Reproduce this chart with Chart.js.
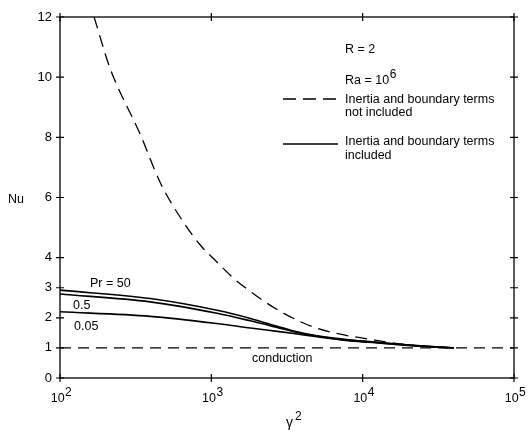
<!DOCTYPE html>
<html>
<head>
<meta charset="utf-8">
<script src="https://cdn.jsdelivr.net/npm/chart.js@4/dist/chart.umd.min.js"></script>
<style>
  html, body { margin: 0; padding: 0; background: #fff; }
  #wrap { width: 529px; height: 436px; }
</style>
</head>
<body>
<div id="wrap"><canvas id="c" width="529" height="436"></canvas></div>
<script>
// ---- data ----
const xTickVals = [100, 1000, 10000, 100000];
const xTickExps = ['2', '3', '4', '5'];
const yTickVals = [0, 1, 2, 3, 4, 6, 8, 10, 12];

// Inertia and boundary terms NOT included (dashed)
const notInclX = [168, 214, 339, 459, 640, 845, 1091, 1406, 1811, 2339, 3013, 3885, 5010, 7520, 10800, 14650, 20000, 30000];
const notInclY = [12, 10.3, 8.1, 6.5, 5.25, 4.42, 3.85, 3.31, 2.88, 2.48, 2.15, 1.87, 1.65, 1.43, 1.30, 1.19, 1.10, 1.03];

// Inertia and boundary terms included (solid), three Prandtl numbers
const solidX = [100, 395, 1091, 1811, 2723, 3508, 5010, 8340, 13150, 20000, 40000];
const pr50  = [2.92, 2.64, 2.25, 1.98, 1.72, 1.56, 1.40, 1.26, 1.18, 1.10, 1.0];
const pr05  = [2.79, 2.53, 2.15, 1.90, 1.68, 1.54, 1.39, 1.25, 1.17, 1.09, 1.0];
const pr005 = [2.20, 2.05, 1.81, 1.66, 1.55, 1.48, 1.37, 1.23, 1.16, 1.08, 1.0];

// Conduction line
const condX = [100, 100000];
const condY = [1, 1];

const FONT = '"Liberation Sans", Arial, Helvetica, sans-serif';
const pts = (xs, ys) => xs.map((x, i) => ({ x: x, y: ys[i] }));

const solidStyle = { borderColor: '#000', borderWidth: 1.6, pointRadius: 0, fill: false, cubicInterpolationMode: 'monotone' };

const decor = {
  id: 'decor',
  afterDraw(chart) {
    const ctx = chart.ctx;
    const a = chart.chartArea;
    const xs = chart.scales.x, ys = chart.scales.y;
    ctx.save();
    ctx.strokeStyle = '#000';
    ctx.fillStyle = '#000';
    ctx.lineWidth = 1.3;
    ctx.setLineDash([]);
    ctx.strokeRect(a.left, a.top, a.right - a.left, a.bottom - a.top);
    // cross ticks on all four sides
    ctx.lineWidth = 1.2;
    ctx.beginPath();
    yTickVals.forEach(v => {
      const py = ys.getPixelForValue(v);
      ctx.moveTo(a.left - 4, py); ctx.lineTo(a.left + 4, py);
      ctx.moveTo(a.right - 4, py); ctx.lineTo(a.right + 4, py);
    });
    xTickVals.forEach(v => {
      const px = xs.getPixelForValue(v);
      ctx.moveTo(px, a.bottom - 4); ctx.lineTo(px, a.bottom + 4);
      ctx.moveTo(px, a.top - 4); ctx.lineTo(px, a.top + 4);
    });
    ctx.stroke();

    // helper: base + raised exponent
    function powText(base, exp, x, y, align) {
      ctx.font = '12.5px ' + FONT;
      const w1 = ctx.measureText(base).width;
      ctx.font = '12px ' + FONT;
      const w2 = ctx.measureText(exp).width;
      let sx = x;
      if (align === 'center') sx = x - (w1 + w2) / 2;
      ctx.textAlign = 'left';
      ctx.textBaseline = 'alphabetic';
      ctx.font = '12.5px ' + FONT;
      ctx.fillText(base, sx, y);
      ctx.font = '12px ' + FONT;
      ctx.fillText(exp, sx + w1 + 0.5, y - 6);
    }
    // x tick labels
    xTickVals.forEach((v, i) => {
      powText('10', xTickExps[i], xs.getPixelForValue(v) + 1, a.bottom + 24, 'center');
    });
    // axis titles
    ctx.font = '12.5px ' + FONT;
    ctx.textAlign = 'left';
    ctx.textBaseline = 'alphabetic';
    ctx.fillText('Nu', 8, ys.getPixelForValue(6) + 5);
    ctx.font = '14px ' + FONT;
    ctx.fillText('\u03B3', 286, a.bottom + 49);
    ctx.font = '12px ' + FONT;
    ctx.fillText('2', 295, a.bottom + 42);

    // legend / annotation text
    ctx.font = '12.5px ' + FONT;
    ctx.fillText('R = 2', 345, 53);
    powText('Ra = 10', '6', 345, 84, 'left');
    ctx.font = '12.5px ' + FONT;
    ctx.fillText('Inertia and boundary terms', 345, 103);
    ctx.fillText('not included', 345, 116);
    ctx.fillText('Inertia and boundary terms', 345, 145);
    ctx.fillText('included', 345, 159);
    // legend samples
    ctx.lineWidth = 1.3;
    ctx.setLineDash([13, 7]);
    ctx.beginPath(); ctx.moveTo(283, 99); ctx.lineTo(339, 99); ctx.stroke();
    ctx.setLineDash([]);
    ctx.lineWidth = 1.5;
    ctx.beginPath(); ctx.moveTo(283, 144); ctx.lineTo(338, 144); ctx.stroke();

    // curve labels
    ctx.font = '12.5px ' + FONT;
    ctx.fillText('Pr = 50', 90, 287);
    ctx.fillText('0.5', 73, 309);
    ctx.fillText('0.05', 74, 330);
    ctx.fillText('conduction', 252, 362);
    ctx.restore();
  }
};

new Chart(document.getElementById('c'), {
  type: 'line',
  data: {
    datasets: [
      { label: 'not included', data: pts(notInclX, notInclY), borderColor: '#000', borderWidth: 1.3, borderDash: [12, 7], pointRadius: 0, fill: false, cubicInterpolationMode: 'monotone' },
      Object.assign({ label: 'Pr = 50', data: pts(solidX, pr50) }, solidStyle),
      Object.assign({ label: 'Pr = 0.5', data: pts(solidX, pr05) }, solidStyle),
      Object.assign({ label: 'Pr = 0.05', data: pts(solidX, pr005) }, solidStyle),
      { label: 'conduction', data: pts(condX, condY), borderColor: '#000', borderWidth: 1.3, borderDash: [11, 7], pointRadius: 0, fill: false }
    ]
  },
  options: {
    responsive: false,
    animation: false,
    devicePixelRatio: 1,
    layout: { padding: { top: 17, right: 15, left: 0, bottom: 0 } },
    plugins: { legend: { display: false }, tooltip: { enabled: false } },
    scales: {
      x: {
        type: 'logarithmic', min: 100, max: 100000,
        grid: { display: false, drawTicks: false },
        border: { display: false },
        ticks: { display: false },
        afterBuildTicks: s => { s.ticks = xTickVals.map(v => ({ value: v })); },
        afterFit: s => { s.height = 58; }
      },
      y: {
        type: 'linear', min: 0, max: 12,
        grid: { display: false, drawTicks: false },
        border: { display: false },
        ticks: { color: '#000', padding: 8, font: { size: 13, family: FONT }, callback: v => String(v) },
        afterBuildTicks: s => { s.ticks = yTickVals.map(v => ({ value: v })); },
        afterFit: s => { s.width = 60; }
      }
    }
  },
  plugins: [decor]
});
</script>
</body>
</html>
